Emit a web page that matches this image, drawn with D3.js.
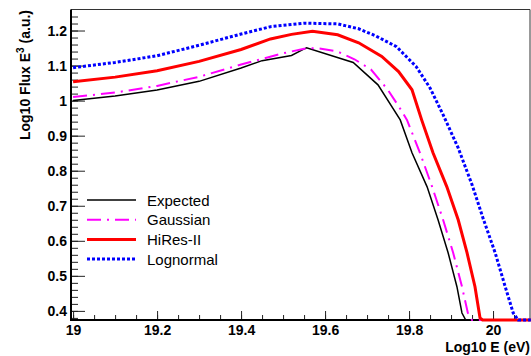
<!DOCTYPE html>
<html>
<head>
<meta charset="utf-8">
<script src="https://cdn.jsdelivr.net/npm/d3@7"></script>
<style>
  body { margin: 0; background: #fff; }
  svg { display: block; font-family: "Liberation Sans", Arial, sans-serif; }
</style>
</head>
<body>
<script>
// values
const expectedE    = [19.00, 19.10, 19.20, 19.30, 19.40, 19.45, 19.52, 19.556, 19.667, 19.726, 19.779, 19.807, 19.843, 19.869, 19.893, 19.914, 19.926, 19.935, 20.09];
const expectedFlux = [1.000, 1.013, 1.030, 1.055, 1.093, 1.114, 1.129, 1.151, 1.109, 1.045, 0.945, 0.851, 0.754, 0.660, 0.566, 0.469, 0.394, 0.30, 0.30];

const gaussE    = [19.00, 19.10, 19.20, 19.30, 19.40, 19.45, 19.50, 19.55, 19.58, 19.63, 19.67, 19.71, 19.75, 19.78, 19.795, 19.826, 19.855, 19.881, 19.905, 19.926, 19.940, 19.950, 20.09];
const gaussFlux = [1.010, 1.023, 1.042, 1.068, 1.103, 1.119, 1.135, 1.148, 1.150, 1.140, 1.118, 1.088, 1.030, 0.975, 0.945, 0.851, 0.754, 0.660, 0.566, 0.469, 0.394, 0.30, 0.30];

const hiresE    = [19.00, 19.10, 19.20, 19.30, 19.40, 19.47, 19.52, 19.57, 19.63, 19.68, 19.735, 19.775, 19.807, 19.83, 19.857, 19.890, 19.917, 19.938, 19.957, 19.969, 19.975, 20.09];
const hiresFlux = [1.054, 1.067, 1.085, 1.112, 1.146, 1.176, 1.189, 1.198, 1.188, 1.165, 1.126, 1.083, 1.031, 0.945, 0.851, 0.754, 0.660, 0.566, 0.469, 0.380, 0.30, 0.30];

const lognE    = [19.00, 19.10, 19.20, 19.30, 19.40, 19.47, 19.55, 19.63, 19.68, 19.72, 19.77, 19.817, 19.85, 19.881, 19.917, 19.950, 19.976, 20.005, 20.029, 20.048, 20.06, 20.09];
const lognFlux = [1.094, 1.109, 1.128, 1.158, 1.190, 1.211, 1.221, 1.219, 1.205, 1.185, 1.154, 1.097, 1.036, 0.960, 0.865, 0.760, 0.665, 0.566, 0.469, 0.394, 0.30, 0.30];

const seriesNames = ["Expected", "Gaussian", "HiRes-II", "Lognormal"];
const xTickValues = [19, 19.2, 19.4, 19.6, 19.8, 20];
const yTickValues = [0.4, 0.5, 0.6, 0.7, 0.8, 0.9, 1.0, 1.1, 1.2];

const width = 531, height = 356;
const fLeft = 71, fRight = 530, fTop = 9.5, fBottom = 320;

const svg = d3.select("body").append("svg")
  .attr("width", width)
  .attr("height", height);

const x = d3.scaleLinear().domain([18.995, 20.088]).range([fLeft, fRight]);
const y = d3.scaleLinear().domain([0.374, 1.26]).range([fBottom, fTop]).clamp(true);

// frame (top and right)
svg.append("path")
  .attr("d", `M${fLeft},${fTop}H${fRight}V${fBottom}`)
  .attr("fill", "none")
  .attr("stroke", "#333")
  .attr("stroke-width", 1);

// minor ticks
const yMinor = svg.append("g").attr("transform", `translate(${fLeft},0)`)
  .call(d3.axisLeft(y).tickValues(d3.range(19, 63).map(i => i * 0.02)).tickSize(-7).tickFormat(""));
const xMinor = svg.append("g").attr("transform", `translate(0,${fBottom})`)
  .call(d3.axisBottom(x).tickValues(d3.range(380, 402).map(i => i * 0.05)).tickSize(-5).tickFormat(""));

// major ticks + labels
const yAxis = svg.append("g").attr("transform", `translate(${fLeft},0)`)
  .call(d3.axisLeft(y).tickValues(yTickValues).tickSize(-14).tickPadding(4).tickFormat(d3.format("~g")));
const xAxis = svg.append("g").attr("transform", `translate(0,${fBottom})`)
  .call(d3.axisBottom(x).tickValues(xTickValues).tickSize(-9).tickPadding(5).tickFormat(d3.format("~g")));

[yMinor, xMinor, yAxis, xAxis].forEach(g => {
  g.select(".domain").remove();
  g.selectAll("line").attr("stroke", "#222");
});
[yAxis, xAxis].forEach(g => {
  g.selectAll("text")
    .attr("fill", "#000")
    .style("font-size", "14px")
    .style("font-weight", "bold")
    .style("font-family", "'Liberation Sans', Arial, sans-serif");
});

// thick axis lines
svg.append("path")
  .attr("d", `M${fLeft},${fTop}V${fBottom}H${fRight}`)
  .attr("fill", "none")
  .attr("stroke", "#000")
  .attr("stroke-width", 2);

// curves
const styles = [
  { color: "#000000", width: 1.5, dash: null },
  { color: "#ff00ff", width: 2, dash: "14,6,2,6" },
  { color: "#ff0000", width: 3, dash: null },
  { color: "#0000ff", width: 3, dash: "3,2" }
];
const curves = [
  d3.zip(expectedE, expectedFlux),
  d3.zip(gaussE, gaussFlux),
  d3.zip(hiresE, hiresFlux),
  d3.zip(lognE, lognFlux)
];

const line = d3.line()
  .x(d => x(d[0]))
  .y(d => y(d[1]));

curves.forEach((c, i) => {
  svg.append("path")
    .datum(c)
    .attr("d", line)
    .attr("fill", "none")
    .attr("stroke", styles[i].color)
    .attr("stroke-width", styles[i].width)
    .attr("stroke-dasharray", styles[i].dash);
});

// legend
const legend = svg.append("g");
seriesNames.forEach((name, i) => {
  const ly = 200 + i * 19.7;
  legend.append("line")
    .attr("x1", 87).attr("x2", 136)
    .attr("y1", ly).attr("y2", ly)
    .attr("stroke", styles[i].color)
    .attr("stroke-width", styles[i].width)
    .attr("stroke-dasharray", styles[i].dash);
  legend.append("text")
    .attr("x", 147).attr("y", ly + 5.5)
    .style("font-size", "15px")
    .text(name);
});

// axis titles
const yTitle = svg.append("text")
  .attr("transform", "translate(30,10) rotate(-90)")
  .attr("text-anchor", "end")
  .style("font-size", "14px")
  .style("font-weight", "bold");
yTitle.append("tspan").text("Log10 Flux E");
yTitle.append("tspan").attr("dy", -6).style("font-size", "10px").text("3");
yTitle.append("tspan").attr("dy", 6).text(" (a.u.)");

svg.append("text")
  .attr("x", 530).attr("y", 352)
  .attr("text-anchor", "end")
  .style("font-size", "14px")
  .style("font-weight", "bold")
  .text("Log10 E (eV)");
</script>
</body>
</html>
